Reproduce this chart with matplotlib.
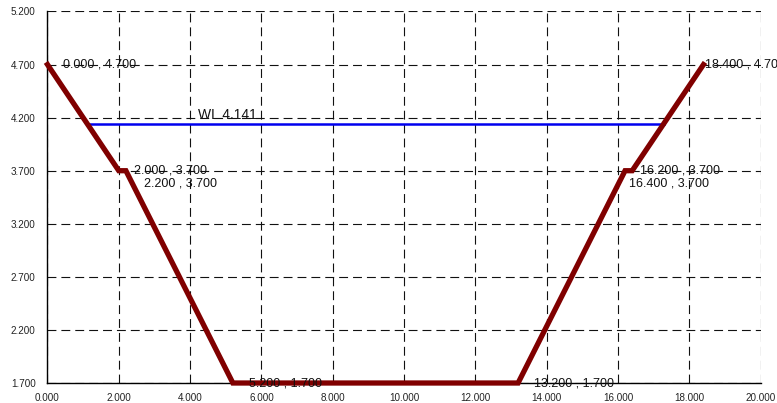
import numpy as np
import matplotlib
matplotlib.use("Agg")
import matplotlib.pyplot as plt

plt.rcParams['font.family'] = ['Liberation Sans', 'DejaVu Sans']

# Cross-section profile
x_pts = [0.0, 2.0, 2.2, 5.2, 13.2, 16.2, 16.4, 18.4]
y_pts = [4.7, 3.7, 3.7, 1.7, 1.7, 3.7, 3.7, 4.7]
water_level = 4.141

x_ticks = [0, 2, 4, 6, 8, 10, 12, 14, 16, 18, 20]
y_ticks = [1.7, 2.2, 2.7, 3.2, 3.7, 4.2, 4.7, 5.2]

# label offsets (pixels) per point
label_dx = [16, 15, 18, 16, 16, 15, -3, 2]
label_dy = [0, 0, -13, 0, 0, 0, -13, 0]

fig = plt.figure(figsize=(7.77, 4.03), dpi=100)
ax = fig.add_axes([0.0611, 0.0496, 0.9788 - 0.0611, 0.9715 - 0.0496])

ax.set_xlim(0, 20)
ax.set_ylim(1.7, 5.2)
ax.set_xticks(x_ticks)
ax.set_yticks(y_ticks)
ax.set_xticklabels([f"{v:.3f}" for v in x_ticks])
ax.set_yticklabels([f"{v:.3f}" for v in y_ticks])
ax.tick_params(length=0, labelsize=7.1, colors='#222222')
ax.tick_params(axis='y', pad=8.5)
ax.tick_params(axis='x', pad=7)
ax.grid(True, color='#111111', linestyle=(0, (8, 4.5)), linewidth=0.8)
for s in ['top', 'right']:
    ax.spines[s].set_visible(False)
for s in ['left', 'bottom']:
    ax.spines[s].set_color('black')
    ax.spines[s].set_linewidth(1.0)

# water line intersections with the banks
left_x = np.interp(water_level, [y_pts[1], y_pts[0]], [x_pts[1], x_pts[0]])
right_x = np.interp(water_level, [y_pts[6], y_pts[7]], [x_pts[6], x_pts[7]])
ax.plot([left_x, right_x], [water_level, water_level], color='#0000EE', linewidth=1.8, zorder=3)
ax.text(4.22, water_level + 0.02, f"WL {water_level:.3f}", fontsize=10, color='#111111',
        ha='left', va='bottom', zorder=5)

ax.plot(x_pts, y_pts, color='#800000', linewidth=3.8, solid_joinstyle='miter',
        clip_on=False, zorder=4)

for x, y, dx, dy in zip(x_pts, y_pts, label_dx, label_dy):
    ax.annotate(f"{x:.3f} , {y:.3f}", (x, y), xytext=(dx, dy), textcoords='offset pixels',
                fontsize=9, ha='left', va='center', color='#111111', zorder=6,
                annotation_clip=False)

fig.savefig("out.png", dpi=100)
